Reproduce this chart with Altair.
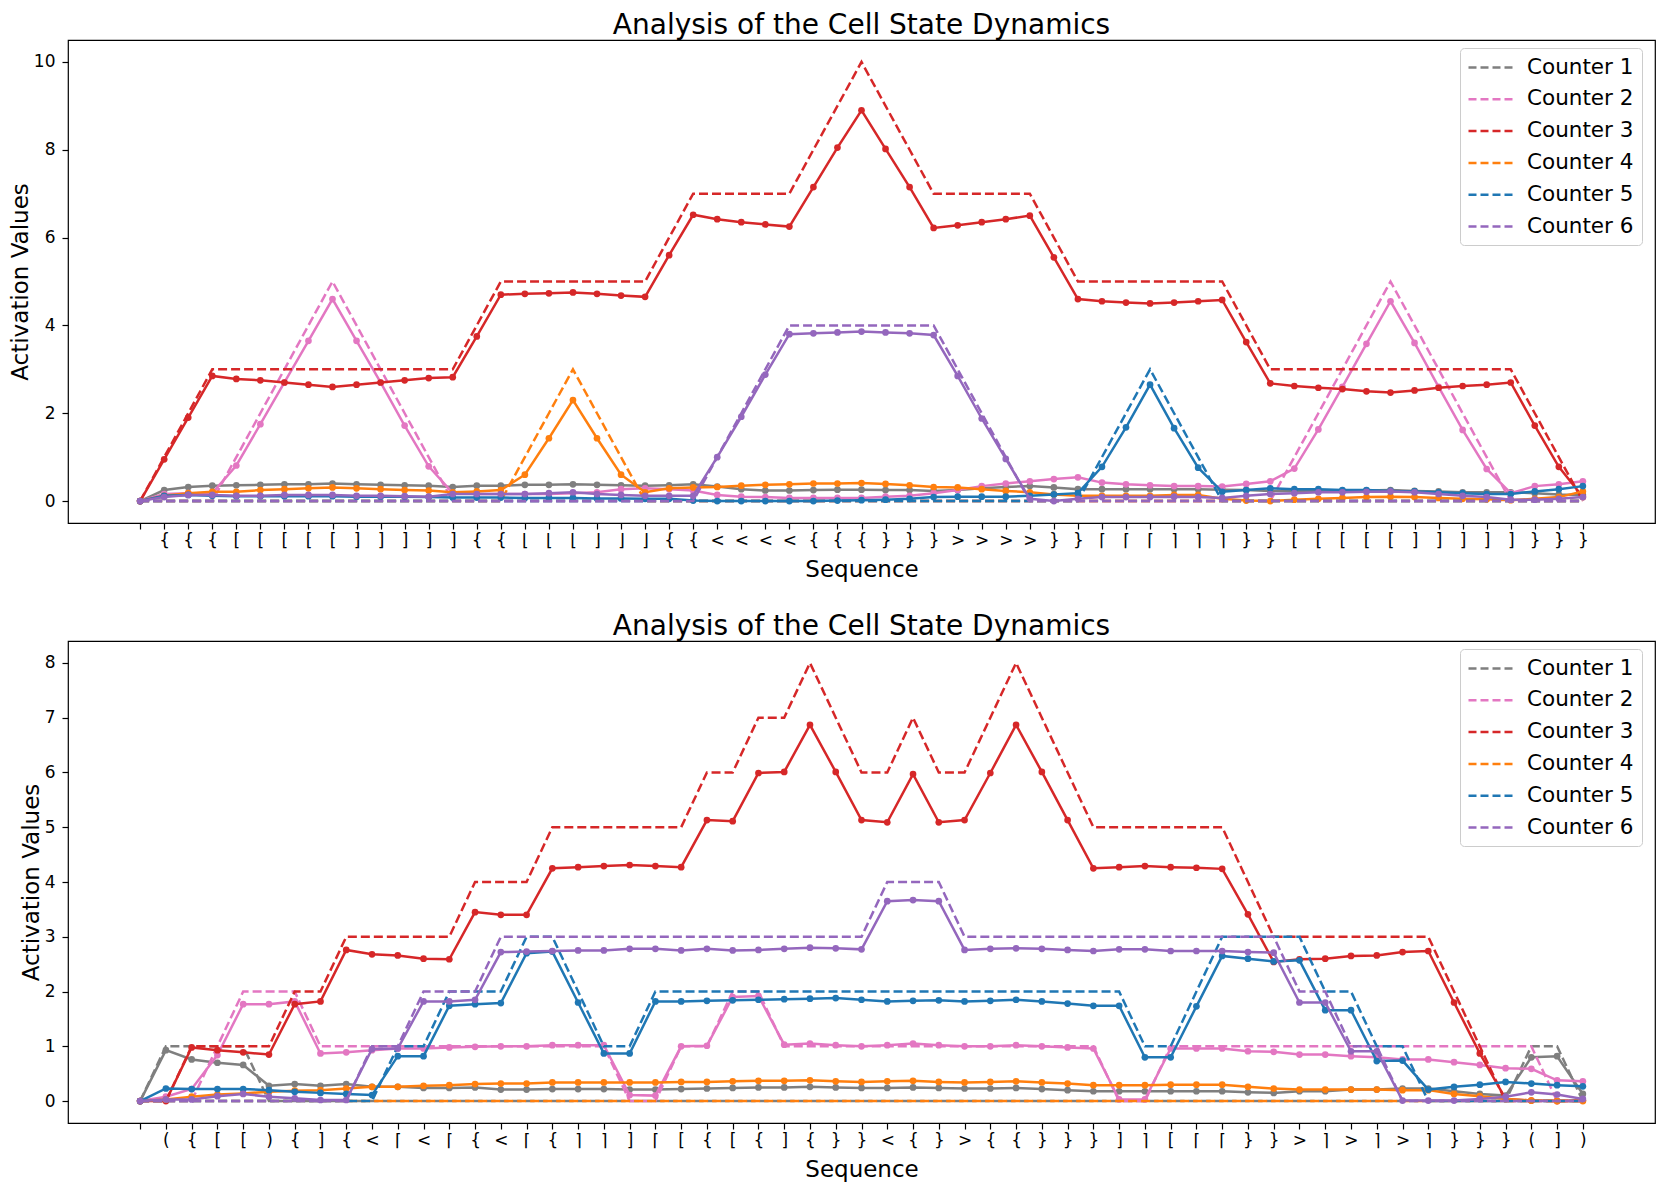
import altair as alt
import pandas as pd

COUNTERS = ["Counter 1", "Counter 2", "Counter 3", "Counter 4", "Counter 5", "Counter 6"]
COLORS = ["#7f7f7f", "#e377c2", "#d62728", "#ff7f0e", "#1f77b4", "#9467bd"]

# ---------------- top panel ----------------
TOP_LABELS = ["", "{", "{", "{", "[", "[", "[", "[", "[", "]", "]", "]", "]", "]", "{", "{",
              "⌊", "⌊", "⌊", "⌋", "⌋", "⌋", "{", "{", "<", "<", "<", "<", "{", "{", "{",
              "}", "}", "}", ">", ">", ">", ">", "}", "}", "⌈", "⌈", "⌈", "⌉", "⌉", "⌉",
              "}", "}", "[", "[", "[", "[", "[", "]", "]", "]", "]", "]", "}", "}", "}"]

TOP_T1 = [0, 0, 0, 0, 0, 0, 0, 0, 0, 0, 0, 0, 0, 0, 0, 0, 0, 0, 0, 0, 0, 0, 0, 0, 0, 0, 0, 0, 0, 0, 0,
          0, 0, 0, 0, 0, 0, 0, 0, 0, 0, 0, 0, 0, 0, 0, 0, 0, 0, 0, 0, 0, 0, 0, 0, 0, 0, 0, 0, 0, 0]
TOP_T2 = [0, 0, 0, 0, 1, 2, 3, 4, 5, 4, 3, 2, 1, 0, 0, 0, 0, 0, 0, 0, 0, 0, 0, 0, 0, 0, 0, 0, 0, 0, 0,
          0, 0, 0, 0, 0, 0, 0, 0, 0, 0, 0, 0, 0, 0, 0, 0, 0, 1, 2, 3, 4, 5, 4, 3, 2, 1, 0, 0, 0, 0]
TOP_T3 = [0, 1, 2, 3, 3, 3, 3, 3, 3, 3, 3, 3, 3, 3, 4, 5, 5, 5, 5, 5, 5, 5, 6, 7, 7, 7, 7, 7, 8, 9, 10,
          9, 8, 7, 7, 7, 7, 7, 6, 5, 5, 5, 5, 5, 5, 5, 4, 3, 3, 3, 3, 3, 3, 3, 3, 3, 3, 3, 2, 1, 0]
TOP_T4 = [0, 0, 0, 0, 0, 0, 0, 0, 0, 0, 0, 0, 0, 0, 0, 0, 1, 2, 3, 2, 1, 0, 0, 0, 0, 0, 0, 0, 0, 0, 0,
          0, 0, 0, 0, 0, 0, 0, 0, 0, 0, 0, 0, 0, 0, 0, 0, 0, 0, 0, 0, 0, 0, 0, 0, 0, 0, 0, 0, 0, 0]
TOP_T5 = [0, 0, 0, 0, 0, 0, 0, 0, 0, 0, 0, 0, 0, 0, 0, 0, 0, 0, 0, 0, 0, 0, 0, 0, 0, 0, 0, 0, 0, 0, 0,
          0, 0, 0, 0, 0, 0, 0, 0, 0, 1, 2, 3, 2, 1, 0, 0, 0, 0, 0, 0, 0, 0, 0, 0, 0, 0, 0, 0, 0, 0]
TOP_T6 = [0, 0, 0, 0, 0, 0, 0, 0, 0, 0, 0, 0, 0, 0, 0, 0, 0, 0, 0, 0, 0, 0, 0, 0, 1, 2, 3, 4, 4, 4, 4,
          4, 4, 4, 3, 2, 1, 0, 0, 0, 0, 0, 0, 0, 0, 0, 0, 0, 0, 0, 0, 0, 0, 0, 0, 0, 0, 0, 0, 0, 0]

TOP_A1 = [0, 0.25, 0.32, 0.35, 0.36, 0.37, 0.38, 0.38, 0.40, 0.38, 0.37, 0.36, 0.35, 0.32, 0.35, 0.35,
          0.37, 0.37, 0.38, 0.37, 0.36, 0.35, 0.36, 0.38, 0.33, 0.27, 0.24, 0.24, 0.25, 0.26, 0.26,
          0.25, 0.25, 0.23, 0.25, 0.29, 0.32, 0.34, 0.31, 0.27, 0.27, 0.27, 0.27, 0.27, 0.27, 0.26,
          0.25, 0.23, 0.23, 0.23, 0.23, 0.24, 0.25, 0.23, 0.22, 0.20, 0.20, 0.20, 0.18, 0.15, 0.14]
TOP_A2 = [0, 0.16, 0.18, 0.18, 0.81, 1.75, 2.70, 3.65, 4.60, 3.65, 2.70, 1.72, 0.79, 0.18, 0.16, 0.16,
          0.16, 0.16, 0.18, 0.20, 0.27, 0.29, 0.27, 0.24, 0.14, 0.10, 0.09, 0.07, 0.07, 0.07, 0.07,
          0.10, 0.12, 0.18, 0.25, 0.34, 0.40, 0.45, 0.50, 0.54, 0.42, 0.38, 0.36, 0.34, 0.34, 0.33,
          0.39, 0.45, 0.74, 1.63, 2.60, 3.58, 4.55, 3.60, 2.60, 1.62, 0.73, 0.18, 0.34, 0.38, 0.45]
TOP_A3 = [0, 0.95, 1.90, 2.85, 2.78, 2.75, 2.70, 2.65, 2.60, 2.65, 2.70, 2.75, 2.80, 2.82, 3.75, 4.70,
          4.72, 4.73, 4.75, 4.72, 4.68, 4.65, 5.60, 6.52, 6.42, 6.35, 6.30, 6.25, 7.15, 8.05, 8.90,
          8.02, 7.15, 6.22, 6.28, 6.35, 6.42, 6.50, 5.55, 4.60, 4.55, 4.52, 4.50, 4.52, 4.55, 4.58,
          3.62, 2.68, 2.62, 2.58, 2.55, 2.50, 2.47, 2.52, 2.58, 2.62, 2.65, 2.70, 1.72, 0.78, 0.09]
TOP_A4 = [0, 0.12, 0.18, 0.21, 0.21, 0.25, 0.27, 0.29, 0.31, 0.29, 0.27, 0.25, 0.24, 0.20, 0.22, 0.25,
          0.60, 1.43, 2.30, 1.43, 0.60, 0.20, 0.29, 0.31, 0.32, 0.35, 0.37, 0.38, 0.40, 0.40, 0.41,
          0.39, 0.36, 0.32, 0.31, 0.27, 0.23, 0.20, 0.15, 0.12, 0.12, 0.12, 0.12, 0.14, 0.14, 0.05,
          0.01, 0.00, 0.03, 0.05, 0.07, 0.09, 0.10, 0.09, 0.07, 0.05, 0.04, 0.02, 0.05, 0.09, 0.22]
TOP_A5 = [0, 0.12, 0.14, 0.12, 0.11, 0.11, 0.11, 0.11, 0.11, 0.10, 0.10, 0.10, 0.09, 0.08, 0.08, 0.08,
          0.07, 0.07, 0.07, 0.06, 0.06, 0.05, 0.05, 0.01, 0.00, 0.00, 0.00, 0.00, 0.00, 0.01, 0.02,
          0.03, 0.05, 0.09, 0.10, 0.10, 0.10, 0.12, 0.15, 0.18, 0.78, 1.68, 2.65, 1.66, 0.76, 0.21,
          0.25, 0.29, 0.27, 0.27, 0.25, 0.25, 0.23, 0.22, 0.20, 0.18, 0.16, 0.16, 0.22, 0.27, 0.34]
TOP_A6 = [0, 0.09, 0.14, 0.14, 0.12, 0.12, 0.14, 0.14, 0.14, 0.12, 0.12, 0.11, 0.10, 0.16, 0.16, 0.16,
          0.16, 0.18, 0.20, 0.16, 0.14, 0.12, 0.12, 0.12, 1.00, 1.92, 2.88, 3.80, 3.82, 3.84, 3.86,
          3.84, 3.82, 3.78, 2.85, 1.88, 0.96, 0.05, 0.00, 0.05, 0.09, 0.09, 0.09, 0.10, 0.09, 0.07,
          0.12, 0.16, 0.18, 0.20, 0.20, 0.21, 0.22, 0.20, 0.16, 0.12, 0.09, 0.03, 0.03, 0.05, 0.09]

# ---------------- bottom panel ----------------
BOT_LABELS = ["", "(", "{", "[", "[", ")", "{", "]", "{", "<", "⌈", "<", "⌈", "{", "<", "⌈", "{",
              "⌉", "⌉", "]", "⌈", "[", "{", "[", "{", "]", "{", "}", "}", "<", "{", "}", ">", "{",
              "{", "}", "}", "}", "]", "⌉", "[", "⌈", "⌈", "}", "}", ">", "⌉", ">", "⌉", ">", "⌉",
              "}", "}", "}", "(", "]", ")"]

BOT_T1 = [0, 1, 1, 1, 1, 0, 0, 0, 0, 0, 0, 0, 0, 0, 0, 0, 0, 0, 0, 0, 0, 0, 0, 0, 0, 0, 0, 0, 0,
          0, 0, 0, 0, 0, 0, 0, 0, 0, 0, 0, 0, 0, 0, 0, 0, 0, 0, 0, 0, 0, 0, 0, 0, 0, 1, 1, 0]
BOT_T2 = [0, 0, 0, 1, 2, 2, 2, 1, 1, 1, 1, 1, 1, 1, 1, 1, 1, 1, 1, 0, 0, 1, 1, 2, 2, 1, 1, 1, 1,
          1, 1, 1, 1, 1, 1, 1, 1, 1, 0, 0, 1, 1, 1, 1, 1, 1, 1, 1, 1, 1, 1, 1, 1, 1, 1, 0, 0]
BOT_T3 = [0, 0, 1, 1, 1, 1, 2, 2, 3, 3, 3, 3, 3, 4, 4, 4, 5, 5, 5, 5, 5, 5, 6, 6, 7, 7, 8, 7, 6,
          6, 7, 6, 6, 7, 8, 7, 6, 5, 5, 5, 5, 5, 5, 4, 3, 3, 3, 3, 3, 3, 3, 2, 1, 0, 0, 0, 0]
BOT_T4 = [0, 0, 0, 0, 0, 0, 0, 0, 0, 0, 0, 0, 0, 0, 0, 0, 0, 0, 0, 0, 0, 0, 0, 0, 0, 0, 0, 0, 0,
          0, 0, 0, 0, 0, 0, 0, 0, 0, 0, 0, 0, 0, 0, 0, 0, 0, 0, 0, 0, 0, 0, 0, 0, 0, 0, 0, 0]
BOT_T5 = [0, 0, 0, 0, 0, 0, 0, 0, 0, 0, 1, 1, 2, 2, 2, 3, 3, 2, 1, 1, 2, 2, 2, 2, 2, 2, 2, 2, 2,
          2, 2, 2, 2, 2, 2, 2, 2, 2, 2, 1, 1, 2, 3, 3, 3, 3, 2, 2, 1, 1, 0, 0, 0, 0, 0, 0, 0]
BOT_T6 = [0, 0, 0, 0, 0, 0, 0, 0, 0, 1, 1, 2, 2, 2, 3, 3, 3, 3, 3, 3, 3, 3, 3, 3, 3, 3, 3, 3, 3,
          4, 4, 4, 3, 3, 3, 3, 3, 3, 3, 3, 3, 3, 3, 3, 3, 2, 2, 1, 1, 0, 0, 0, 0, 0, 0, 0, 0]

BOT_A1 = [0, 0.93, 0.76, 0.70, 0.66, 0.28, 0.31, 0.28, 0.31, 0.26, 0.26, 0.24, 0.24, 0.25, 0.21,
          0.21, 0.22, 0.22, 0.22, 0.21, 0.21, 0.22, 0.23, 0.24, 0.25, 0.25, 0.26, 0.25, 0.24, 0.24,
          0.25, 0.24, 0.23, 0.23, 0.24, 0.22, 0.20, 0.18, 0.18, 0.18, 0.18, 0.18, 0.18, 0.16, 0.15,
          0.18, 0.18, 0.21, 0.21, 0.23, 0.23, 0.18, 0.13, 0.10, 0.80, 0.82, 0.13]
BOT_A2 = [0, 0.08, 0.22, 0.84, 1.77, 1.77, 1.82, 0.87, 0.89, 0.93, 0.96, 0.96, 0.98, 0.99, 1.00,
          1.00, 1.02, 1.02, 1.02, 0.11, 0.10, 1.00, 1.01, 1.90, 1.92, 1.03, 1.05, 1.02, 1.00, 1.02,
          1.05, 1.02, 1.00, 1.00, 1.02, 1.00, 0.98, 0.96, 0.03, 0.03, 0.96, 0.96, 0.96, 0.91, 0.90,
          0.85, 0.85, 0.82, 0.80, 0.76, 0.76, 0.71, 0.66, 0.60, 0.59, 0.38, 0.36]
BOT_A3 = [0, 0.00, 0.98, 0.93, 0.89, 0.85, 1.77, 1.82, 2.76, 2.68, 2.66, 2.60, 2.59, 3.45, 3.40,
          3.40, 4.25, 4.27, 4.29, 4.31, 4.29, 4.27, 5.13, 5.11, 5.99, 6.01, 6.87, 6.01, 5.13, 5.09,
          5.97, 5.09, 5.13, 5.99, 6.87, 6.01, 5.13, 4.25, 4.27, 4.29, 4.27, 4.26, 4.24, 3.41, 2.54,
          2.59, 2.60, 2.65, 2.66, 2.72, 2.74, 1.80, 0.87, 0.04, 0.01, 0.00, 0.01]
BOT_A4 = [0, 0.03, 0.08, 0.12, 0.14, 0.17, 0.19, 0.20, 0.23, 0.26, 0.26, 0.28, 0.29, 0.31, 0.32,
          0.32, 0.34, 0.34, 0.34, 0.34, 0.34, 0.35, 0.35, 0.36, 0.37, 0.37, 0.38, 0.36, 0.35, 0.36,
          0.37, 0.35, 0.34, 0.35, 0.36, 0.34, 0.32, 0.29, 0.29, 0.29, 0.30, 0.30, 0.30, 0.26, 0.23,
          0.21, 0.21, 0.21, 0.21, 0.20, 0.20, 0.13, 0.09, 0.04, 0.01, 0.00, 0.00]
BOT_A5 = [0, 0.23, 0.22, 0.22, 0.22, 0.20, 0.17, 0.15, 0.13, 0.11, 0.82, 0.82, 1.74, 1.77, 1.79,
          2.70, 2.73, 1.80, 0.87, 0.87, 1.82, 1.82, 1.83, 1.84, 1.85, 1.86, 1.87, 1.88, 1.85, 1.82,
          1.83, 1.84, 1.82, 1.83, 1.85, 1.82, 1.78, 1.74, 1.74, 0.80, 0.80, 1.73, 2.65, 2.60, 2.55,
          2.57, 1.66, 1.66, 0.73, 0.74, 0.21, 0.26, 0.30, 0.35, 0.32, 0.29, 0.27]
BOT_A6 = [0, 0.03, 0.03, 0.09, 0.13, 0.08, 0.05, 0.02, 0.02, 0.95, 0.96, 1.82, 1.82, 1.85, 2.72,
          2.73, 2.74, 2.75, 2.75, 2.78, 2.78, 2.75, 2.78, 2.75, 2.76, 2.78, 2.80, 2.79, 2.77, 3.65,
          3.67, 3.65, 2.76, 2.78, 2.79, 2.78, 2.76, 2.74, 2.77, 2.77, 2.74, 2.74, 2.74, 2.72, 2.71,
          1.80, 1.80, 0.91, 0.91, 0.01, 0.01, 0.01, 0.04, 0.08, 0.16, 0.12, 0.04]

TITLE = "Analysis of the Cell State Dynamics"
FONT = "DejaVu Sans"


def panel(labels, actuals, targets, ymax, yticks, height):
    n = len(labels)
    label_expr = "[" + ",".join("'" + c + "'" for c in labels) + "][datum.value]"
    x_enc = alt.X(
        "idx:Q",
        scale=alt.Scale(domain=[-0.05 * (n - 1), 1.05 * (n - 1)], nice=False, zero=False),
        axis=alt.Axis(values=list(range(n)), labelExpr=label_expr, title="Sequence",
                      labelFontSize=17, labelPadding=3, labelOverlap=False, labelFlush=False,
                      titlePadding=10),
    )
    y_enc = alt.Y(
        "value:Q",
        scale=alt.Scale(domain=[-0.05 * ymax, 1.05 * ymax], nice=False, zero=False),
        axis=alt.Axis(values=yticks, title="Activation Values", labelFontSize=17,
                      labelPadding=7, titlePadding=1),
    )
    layers = []
    for k, name in enumerate(COUNTERS):
        df_t = pd.DataFrame({"idx": list(range(n)), "value": targets[k], "counter": name})
        df_a = pd.DataFrame({"idx": list(range(n)), "value": actuals[k]})
        layers.append(
            alt.Chart(df_t).mark_line(strokeDash=[9, 4], strokeWidth=2.5).encode(
                x=x_enc, y=y_enc,
                color=alt.Color("counter:N",
                                scale=alt.Scale(domain=COUNTERS, range=COLORS),
                                legend=alt.Legend(title=None, orient="none",
                                                  legendX=1392, legendY=8)),
            )
        )
        layers.append(
            alt.Chart(df_a).mark_line(strokeWidth=2.5, color=COLORS[k]).encode(x=x_enc, y=y_enc)
        )
        layers.append(
            alt.Chart(df_a).mark_circle(size=45, color=COLORS[k], opacity=1).encode(x=x_enc, y=y_enc)
        )
    return alt.layer(*layers).properties(
        width=1587, height=height,
        title=alt.TitleParams(TITLE, fontSize=28, font=FONT, fontWeight="normal",
                              offset=0, anchor="middle", color="black"),
    )


top = panel(TOP_LABELS, [TOP_A1, TOP_A2, TOP_A3, TOP_A4, TOP_A5, TOP_A6],
            [TOP_T1, TOP_T2, TOP_T3, TOP_T4, TOP_T5, TOP_T6], 10, [0, 2, 4, 6, 8, 10], 483)
bottom = panel(BOT_LABELS, [BOT_A1, BOT_A2, BOT_A3, BOT_A4, BOT_A5, BOT_A6],
               [BOT_T1, BOT_T2, BOT_T3, BOT_T4, BOT_T5, BOT_T6], 8, [0, 1, 2, 3, 4, 5, 6, 7, 8], 482)

chart = alt.vconcat(top, bottom, spacing=30).resolve_scale(color="independent").properties(
    padding={"left": 0, "top": 3, "right": 0, "bottom": 0}
).configure_view(
    stroke="black", strokeWidth=1.2
).configure_axis(
    grid=False, domain=False, tickColor="black", tickSize=6, tickWidth=1.2,
    labelColor="black", titleColor="black", labelFont=FONT, titleFont=FONT,
    titleFontSize=23, titleFontWeight="normal",
).configure_legend(
    labelFont=FONT, labelFontSize=21.5, labelColor="black", symbolType="M-2.2,0H2.2",
    symbolStrokeWidth=2.5, symbolDash=[8, 4], symbolSize=400, symbolOffset=11,
    labelOffset=25, rowPadding=9.8, padding=8, strokeColor="#cccccc",
    cornerRadius=4, fillColor="white", labelLimit=0,
)

chart.save("out.html", embed_options={"renderer": "svg", "actions": False})
